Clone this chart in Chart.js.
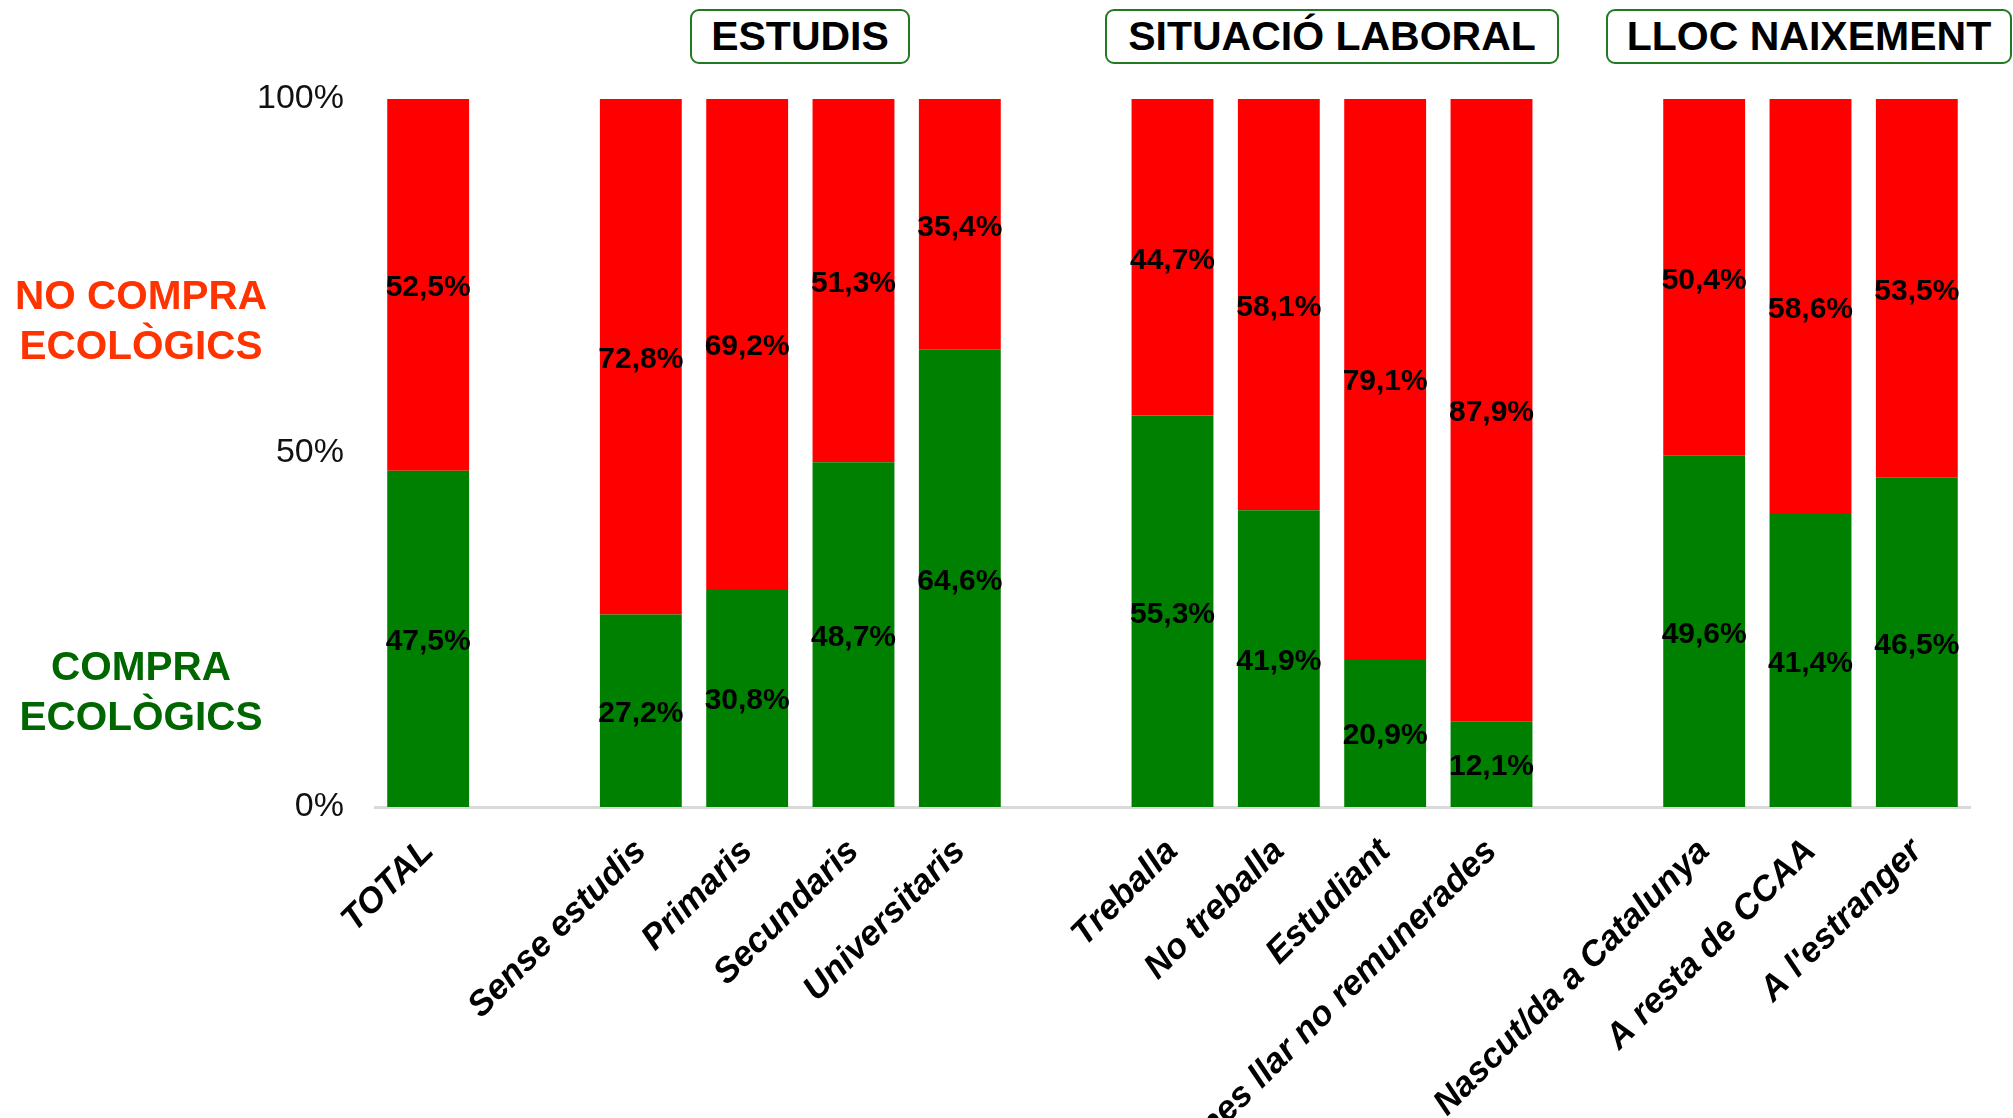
<!DOCTYPE html>
<html>
<head>
<meta charset="utf-8">
<script src="https://cdn.jsdelivr.net/npm/chart.js@4.4.0/dist/chart.umd.min.js"></script>
<style>
  body { margin: 0; background: #fff; }
  #wrap { position: relative; width: 2013px; height: 1118px; overflow: hidden; }
  #chart { display: block; }
  .head {
    position: absolute; top: 9px; height: 55px; box-sizing: border-box;
    border: 2px solid #217a21; border-radius: 9px; background: #fff;
    font: bold 41px "Liberation Sans", Arial, sans-serif; color: #000;
    display: flex; align-items: center; justify-content: center;
  }
  .side {
    position: absolute; left: 0; width: 282px; text-align: center;
    font: bold 40.5px "Liberation Sans", Arial, sans-serif; line-height: 50px;
  }
</style>
</head>
<body>
<div id="wrap">
  <canvas id="chart" width="2013" height="1118"></canvas>
  <div class="head" style="left:690px;width:220px;">ESTUDIS</div>
  <div class="head" style="left:1105px;width:454px;">SITUACIÓ LABORAL</div>
  <div class="head" style="left:1606px;width:406px;">LLOC NAIXEMENT</div>
  <div class="side" style="top:270px;color:#ff3300;">NO COMPRA<br>ECOLÒGICS</div>
  <div class="side" style="top:641px;color:#006600;">COMPRA<br>ECOLÒGICS</div>
</div>
<script>
// empty strings are the gaps between groups
const categories = ['TOTAL', '', 'Sense estudis', 'Primaris', 'Secundaris', 'Universitaris', '',
  'Treballa', 'No treballa', 'Estudiant', 'Feines llar no remunerades', '',
  'Nascut/da a Catalunya', 'A resta de CCAA', "A l'estranger"];
const compra   = [47.5, null, 27.2, 30.8, 48.7, 64.6, null, 55.3, 41.9, 20.9, 12.1, null, 49.6, 41.4, 46.5];
const noCompra = [52.5, null, 72.8, 69.2, 51.3, 35.4, null, 44.7, 58.1, 79.1, 87.9, null, 50.4, 58.6, 53.5];
const yTicks = [0, 50, 100];

const FONT = '"Liberation Sans", Arial, sans-serif';

// percentage text in the middle of each segment
const barLabels = {
  id: 'barLabels',
  afterDatasetsDraw(chart) {
    const ctx = chart.ctx;
    ctx.save();
    ctx.font = 'bold 30px ' + FONT;
    ctx.fillStyle = '#000';
    ctx.textAlign = 'center';
    ctx.textBaseline = 'middle';
    chart.data.datasets.forEach((ds, i) => {
      chart.getDatasetMeta(i).data.forEach((bar, j) => {
        const v = ds.data[j];
        if (v == null) return;
        ctx.fillText(v.toFixed(1).replace('.', ',') + '%', bar.x, (bar.y + bar.base) / 2 + 3);
      });
    });
    ctx.restore();
  }
};

new Chart(document.getElementById('chart'), {
  type: 'bar',
  data: {
    labels: categories,
    datasets: [
      { label: 'Compra ecològics', data: compra, backgroundColor: '#008000',
        barPercentage: 0.77, categoryPercentage: 1 },
      { label: 'No compra ecològics', data: noCompra, backgroundColor: '#ff0000',
        barPercentage: 0.77, categoryPercentage: 1 }
    ]
  },
  options: {
    responsive: false,
    animation: false,
    devicePixelRatio: 1,
    layout: { padding: { top: 99, right: 43, bottom: 0, left: 0 } },
    plugins: { legend: { display: false }, tooltip: { enabled: false } },
    scales: {
      x: {
        stacked: true,
        grid: { display: false, drawTicks: false },
        border: { display: true, color: '#d9d9d9', width: 3 },
        ticks: {
          autoSkip: false, minRotation: 45, maxRotation: 45, padding: 24,
          color: '#000', font: { family: FONT, size: 35, weight: 'bold', style: 'italic' }
        },
        afterFit: s => { s.height = 311; }
      },
      y: {
        stacked: true, min: 0, max: 100,
        grid: { display: false, drawTicks: false },
        border: { display: false },
        afterBuildTicks: s => { s.ticks = yTicks.map(v => ({ value: v })); },
        ticks: {
          padding: 31, color: '#111',
          font: { family: FONT, size: 34 },
          callback: v => v + '%'
        },
        afterFit: s => { s.width = 375; }
      }
    }
  },
  plugins: [barLabels]
});
</script>
</body>
</html>
